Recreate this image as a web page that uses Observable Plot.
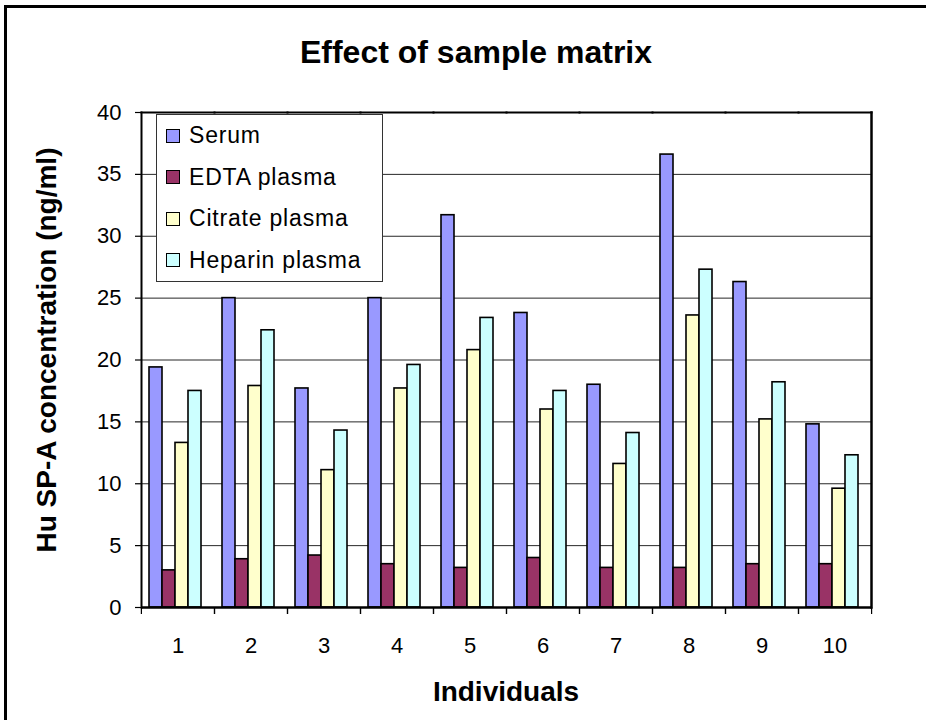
<!DOCTYPE html>
<html><head><meta charset="utf-8">
<script src="https://cdn.jsdelivr.net/npm/d3@7"></script>
<script src="https://cdn.jsdelivr.net/npm/@observablehq/plot@0.6"></script>
<style>
body{margin:0;background:#fff;font-family:"Liberation Sans",Arial,sans-serif;}
#wrap{position:relative;width:926px;height:720px;overflow:hidden;background:#fff;}
#border{position:absolute;left:4px;top:5px;width:1000px;height:800px;border:3px solid #000;box-sizing:border-box;}
#chart{position:absolute;left:0;top:0;}
.lbl{position:absolute;transform:translate(-50%,-50%);font-weight:bold;line-height:1;white-space:nowrap;color:#000;}
#title{left:476px;top:51.5px;font-size:32px;}
#xlab{left:506px;top:692px;font-size:28px;}
#ylab{left:47px;top:350px;font-size:28px;transform:translate(-50%,-50%) rotate(-90deg);}
#legend{position:absolute;left:156px;top:114px;width:227px;height:168px;border:1.5px solid #333;box-sizing:border-box;background:#fff;}
.row{height:41.5px;display:flex;align-items:center;font-size:23px;letter-spacing:0.8px;}
.sw{width:14px;height:14px;border:1.5px solid #000;box-sizing:border-box;margin-left:9px;margin-right:9px;flex:none;}
</style>
</head><body>
<div id="wrap">
  <div id="border"></div>
  <div id="chart"></div>
  <div id="title" class="lbl">Effect of sample matrix</div>
  <div id="ylab" class="lbl">Hu SP-A concentration (ng/ml)</div>
  <div id="xlab" class="lbl">Individuals</div>
  <div id="legend"></div>
</div>
<script>
const individuals = ["1","2","3","4","5","6","7","8","9","10"];
const seriesNames = ["Serum","EDTA plasma","Citrate plasma","Heparin plasma"];
const serum   = [19.4, 25.0, 17.7, 25.0, 31.7, 23.8, 18.0, 36.6, 26.3, 14.8];
const edta    = [3.0, 3.9, 4.2, 3.5, 3.2, 4.0, 3.2, 3.2, 3.5, 3.5];
const citrate = [13.3, 17.9, 11.1, 17.7, 20.8, 16.0, 11.6, 23.6, 15.2, 9.6];
const heparin = [17.5, 22.4, 14.3, 19.6, 23.4, 17.5, 14.1, 27.3, 18.2, 12.3];
const seriesColors = ["#9999FF","#993366","#FFFFCC","#CCFFFF"];
const yTicks = [0,5,10,15,20,25,30,35,40];

const seriesValues = [serum, edta, citrate, heparin];
const rows = individuals.flatMap((ind, i) =>
  seriesNames.map((s, j) => ({ind, series: s, value: seriesValues[j][i]})));

const W = 926, H = 720, mL = 140, mR = 54, mT = 112, mB = 113;
const step = (W - mL - mR) / individuals.length;

const chart = Plot.plot({
  width: W, height: H,
  marginLeft: mL, marginRight: mR, marginTop: mT, marginBottom: mB,
  style: {fontFamily: "Liberation Sans, Arial, sans-serif", fontSize: "22px", color: "#000", background: "transparent", overflow: "visible"},
  fx: {domain: individuals, padding: 0, label: null},
  x: {domain: seriesNames, paddingInner: 0, paddingOuter: 0.66, align: 0.4, axis: null},
  y: {domain: [0, 40], label: null},
  color: {domain: seriesNames, range: seriesColors},
  marks: [
    Plot.ruleY(yTicks.filter(d => d > 0 && d < 40), {stroke: "#000", strokeWidth: 1, strokeOpacity: 0.85}),
    Plot.barY(rows, {fx: "ind", x: "series", y: "value", fill: "series", stroke: "#000", strokeWidth: 1.6}),
    Plot.axisY({ticks: yTicks, tickSize: 6, tickPadding: 14, label: null, fontSize: 22, strokeWidth: 1.2}),
    Plot.axisFx({anchor: "bottom", tickSize: 0, tickPadding: 30, label: null, fontSize: 22}),
    Plot.axisFx({anchor: "bottom", tickSize: 7, text: null, label: null, dx: -step / 2, strokeWidth: 1.2}),
    Plot.axisFx({anchor: "bottom", tickSize: 7, text: null, label: null, dx: step / 2, strokeWidth: 1.2}),
    Plot.frame({anchor: "top", stroke: "#000", strokeWidth: 2}),
    Plot.frame({anchor: "right", facetAnchor: "right", stroke: "#000", strokeWidth: 2.5}),
    Plot.frame({anchor: "left", facetAnchor: "left", stroke: "#000", strokeWidth: 2}),
    Plot.ruleY([0], {stroke: "#000", strokeWidth: 2.5})
  ]
});
document.getElementById("chart").appendChild(chart);

const legend = document.getElementById("legend");
seriesNames.forEach((name, i) => {
  const row = document.createElement("div");
  row.className = "row";
  const sw = document.createElement("div");
  sw.className = "sw";
  sw.style.background = seriesColors[i];
  const t = document.createElement("span");
  t.textContent = name;
  row.appendChild(sw); row.appendChild(t);
  legend.appendChild(row);
});
</script>
</body></html>
